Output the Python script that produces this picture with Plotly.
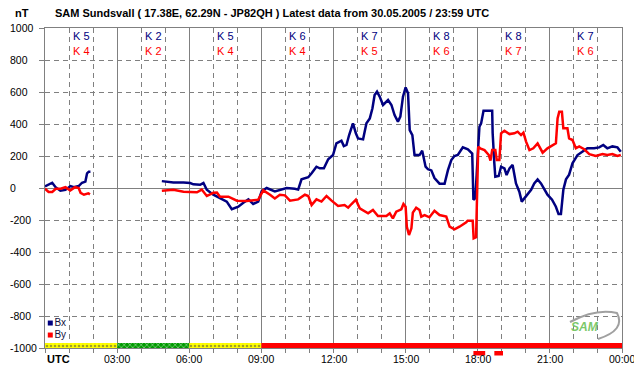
import plotly.graph_objects as go

# ---------------- data ----------------
bx_hours = [0.00, 0.30, 0.44, 0.64, 0.85, 1.06, 1.20, 1.40, 1.54, 1.68, 1.75, 1.82, 1.89, None,
            4.86, 5.34, 5.76, 6.04, 6.17, 6.45, 6.59, 6.73, 7.00, 7.28, 7.56, 7.77, 8.04, 8.25, 8.46, 8.66, 8.87,
            9.01, 9.22, 9.56, 9.77, 10.05, 10.39, 10.53, 10.67, 10.95, 11.09, 11.29, 11.43, 11.60, 11.78, 11.98,
            12.12, 12.33, 12.43, 12.54, 12.65, 12.81, 12.93, 13.02, 13.23, 13.37, 13.51, 13.62, 13.71, 13.81,
            13.92, 14.06, 14.27, 14.41, 14.54, 14.68, 14.78, 14.89, 15.00, 15.10, 15.17, 15.28, 15.37, 15.58,
            15.69, 15.83, 15.93, 16.07, 16.20, 16.41, 16.62, 16.76, 16.90, 17.03, 17.17, 17.38, 17.59, 17.77,
            17.82, 17.90, 18.00, 18.07, 18.14, 18.24, 18.60, 18.62, 18.69, 18.73, 18.87, 18.97, 19.11, 19.20,
            19.32, 19.45, 19.59, 19.73, 19.83, 20.01, 20.22, 20.35, 20.49, 20.63, 20.77, 20.90, 21.09, 21.25,
            21.36, 21.46, 21.56, 21.67, 21.80, 21.94, 22.15, 22.36, 22.56, 22.84, 23.05, 23.22, 23.39, 23.60,
            23.81, 23.95]
bx_values = [10, 33, 5, -17, -12, 12, 5, 12, 33, 40, 92, 102, 102, None,
             43, 35, 35, 31, 23, 20, 31, -11, -42, -63, -85, -133, -117, -92, -71, -100, -85,
             -21, 0, -21, -10, 0, -5, -10, 54, 67, 92, 133, 123, 123, 180, 206,
             279, 296, 262, 269, 331, 404, 342, 310, 304, 404, 435, 498, 581, 602,
             571, 519, 550, 519, 456, 415, 446, 571, 629, 592, 362, 331, 206, 206,
             233, 133, 117, 110, 62, 27, 27, 112, 175, 200, 206, 254, 242, 215,
             -73, -63, 206, 383, 404, 483, 483, 342, 154, 71, 75, 133, 123, 81,
             123, 144, 29, -23, -85, -54, -11, 29, 54, 29, -11, -42, -73, -117,
             -163, -163, -11, 54, 83, 154, 206, 227, 248, 248, 254, 269, 248, 260,
             254, 227]

by_hours = [0.00, 0.15, 0.30, 0.45, 0.65, 0.85, 1.05, 1.25, 1.40, 1.48, 1.62, 1.80, 1.87, None,
            4.86, 5.34, 5.76, 6.32, 6.52, 6.73, 7.00, 7.15, 7.28, 7.63, 7.98, 8.39, 8.87, 9.08, 9.36, 9.56,
            9.77, 9.98, 10.19, 10.53, 10.81, 10.95, 11.09, 11.29, 11.50, 11.71, 11.92, 12.19, 12.46, 12.61,
            12.75, 12.93, 13.09, 13.44, 13.64, 13.85, 14.20, 14.34, 14.47, 14.61, 14.82, 14.91, 15.00, 15.05,
            15.14, 15.24, 15.30, 15.44, 15.58, 15.65, 15.79, 15.99, 16.20, 16.41, 16.69, 16.83, 17.03, 17.24,
            17.52, 17.58, 17.79, 17.83, 17.93, 17.96, 18.02, 18.10, 18.28, 18.46, 18.53, 18.60, 18.73, 18.79,
            18.90, 18.97, 19.11, 19.32, 19.52, 19.66, 19.80, 19.90, 20.01, 20.15, 20.31, 20.49, 20.70, 20.90,
            21.11, 21.25, 21.32, 21.39, 21.50, 21.56, 21.73, 21.80, 21.94, 22.08, 22.22, 22.43, 22.64, 22.91,
            23.19, 23.39, 23.60, 23.81, 23.95]
by_values = [-5, -25, -25, -5, -5, 5, -15, 5, 0, -30, -42, -33, -40, None,
             -17, -11, -23, -27, -10, -50, -30, -29, -55, -54, -79, -81, -73, -15, -42, -65,
             -42, -46, -79, -71, -42, -50, -106, -71, -85, -50, -79, -112, -106, -123,
             -100, -73, -127, -158, -137, -175, -175, -158, -190, -148, -133, -100, -117, -242,
             -294, -252, -154, -123, -137, -179, -169, -183, -142, -169, -179, -242, -258, -242,
             -215, -204, -204, -315, -308, -54, 258, 248, 237, 206, 171, 237, 237, 175,
             175, 342, 358, 337, 342, 352, 331, 346, 290, 237, 248, 279, 221, 248,
             269, 279, 435, 477, 477, 373, 373, 310, 300, 248, 260, 242, 212, 200,
             212, 206, 212, 200, 206]

k_bx = [5, 2, 5, 6, 7, 8, 8, 7]
k_by = [4, 2, 4, 4, 5, 6, 7, 6]
k_centers = [1.5, 4.5, 7.5, 10.5, 13.5, 16.5, 19.5, 22.5]

strip_centers = [1.5, 4.5, 7.5, 16.5]
strip_widths = [3, 3, 3, 15]
strip_colors = ["#FFFF00", "#009A00", "#FFFF00", "#FF0000"]
strip_patterns = [".", "x", ".", ""]
strip_fg = ["#FF0000", "#005A00", "#FF0000", "#FF0000"]

event_starts = [17.82, 18.69]
event_ends = [18.31, 19.05]

x_tickvals = [0, 3, 6, 9, 12, 15, 18, 21, 24]
x_ticktext = ["", "03:00", "06:00", "09:00", "12:00", "15:00", "18:00", "21:00", "00:00"]
y_tickvals = [1000, 800, 600, 400, 200, 0, -200, -400, -600, -800, -1000]

title_text = "SAM Sundsvall ( 17.38E, 62.29N - JP82QH ) Latest data from 30.05.2005 / 23:59 UTC"

# ---------------- figure ----------------
# the page body has an 8px margin, so the figure is made 8px smaller and all
# positions are given in window pixels (offset 8px)
OFF = 8
W, H = 642 - OFF, 376 - OFF
L, R, T, B = 45 - OFF, 20, 28 - OFF, 28
PW, PH = W - L - R, H - T - B


def px(xp):
    return (xp - OFF - L) / PW


def py(yp):
    return (H - B - (yp - OFF)) / PH


FONT = "Liberation Sans, Arial, sans-serif"
GRID = "#808080"

fig = go.Figure()

fig.add_trace(go.Bar(
    x=strip_centers, y=[31] * len(strip_centers), base=-1000, width=strip_widths,
    marker=dict(color=strip_colors, line=dict(width=0),
                pattern=dict(shape=strip_patterns, fgcolor=strip_fg, size=4, solidity=0.35)),
    showlegend=False, hoverinfo="skip"))

fig.add_trace(go.Scatter(x=bx_hours, y=bx_values, mode="lines", name="Bx",
                         line=dict(color="#000080", width=2.5), connectgaps=False, showlegend=False))
fig.add_trace(go.Scatter(x=by_hours, y=by_values, mode="lines", name="By",
                         line=dict(color="#FF0000", width=2.5), connectgaps=False, showlegend=False))

# legend
fig.add_trace(go.Scatter(x=[0.22, 0.22], y=[-844, -919], mode="markers+text",
                         marker=dict(symbol="square", size=5, color=["#000080", "#FF0000"]),
                         text=["Bx", "By"], textposition="middle right",
                         textfont=dict(family=FONT, size=10, color="#101040"),
                         showlegend=False, hoverinfo="skip", cliponaxis=False))

ann = []
ann.append(dict(text="<b>" + title_text + "</b>", xref="paper", yref="paper", x=px(272), y=py(13),
                xanchor="center", yanchor="middle", showarrow=False,
                font=dict(family=FONT, size=11, color="black")))
ann.append(dict(text="<b>nT</b>", xref="paper", yref="paper", x=px(22), y=py(13),
                xanchor="center", yanchor="middle", showarrow=False,
                font=dict(family=FONT, size=11, color="black")))
ann.append(dict(text="<b>UTC</b>", xref="paper", yref="paper", x=px(45), y=py(359),
                xanchor="left", yanchor="middle", showarrow=False,
                font=dict(family=FONT, size=11, color="black")))
for tv, tt in zip(x_tickvals, x_ticktext):
    if tt:
        ann.append(dict(text=tt, xref="x", yref="paper", x=tv, y=py(359),
                        xanchor="center", yanchor="middle", showarrow=False,
                        font=dict(family=FONT, size=10.5, color="black")))
for v in y_tickvals:
    ann.append(dict(text=str(v), xref="paper", yref="y", x=px(8), y=v,
                    xanchor="left", yanchor="middle", showarrow=False,
                    font=dict(family=FONT, size=10.5, color="black")))
for xc, kb, ky in zip(k_centers, k_bx, k_by):
    ann.append(dict(text="K " + str(kb), x=xc, y=950, xref="x", yref="y", showarrow=False,
                    xanchor="center", yanchor="middle", font=dict(family=FONT, size=11, color="#000080")))
    ann.append(dict(text="K " + str(ky), x=xc, y=856, xref="x", yref="y", showarrow=False,
                    xanchor="center", yanchor="middle", font=dict(family=FONT, size=11, color="#FF0000")))
# logo
ann.append(dict(text="<b><i>SAM</i></b>", xref="paper", yref="paper", x=px(585), y=py(327),
                xanchor="center", yanchor="middle", showarrow=False,
                font=dict(family=FONT, size=12, color="#7CC86A")))

shapes = [dict(type="path", xref="paper", yref="paper", layer="above",
               path=f"M {px(570)},{py(322)} Q {px(596)},{py(308)} {px(617)},{py(313)} "
                    f"Q {px(626)},{py(330)} {px(598)},{py(339)}",
               line=dict(color="#A0A0A0", width=2))]
for s, e in zip(event_starts, event_ends):
    shapes.append(dict(type="rect", xref="x", yref="paper", x0=s, x1=e,
                       y0=py(355.5), y1=py(351), fillcolor="#FF0000",
                       line=dict(width=0), layer="above"))

fig.update_layout(
    width=W, height=H, margin=dict(l=L, r=R, t=T, b=B, autoexpand=False),
    paper_bgcolor="white", plot_bgcolor="white",
    barmode="overlay", showlegend=False,
    annotations=ann, shapes=shapes,
    font=dict(family=FONT, size=10.5, color="black"),
)
fig.update_xaxes(range=[0, 24], tickvals=x_tickvals, showticklabels=False,
                 showgrid=True, gridcolor=GRID, gridwidth=1,
                 ticks="outside", ticklen=4, tickcolor=GRID,
                 showline=True, linecolor=GRID, linewidth=1, mirror=True,
                 zeroline=False,
                 minor=dict(dtick=1, tick0=0, showgrid=True, gridcolor=GRID, griddash="5px,4px",
                            gridwidth=1, ticks="outside", ticklen=4, tickcolor=GRID))
fig.update_yaxes(range=[-1000, 1000], tickvals=y_tickvals, showticklabels=False,
                 showgrid=True, gridcolor=GRID, gridwidth=1, griddash="5px,4px",
                 zeroline=True, zerolinecolor=GRID, zerolinewidth=1,
                 ticks="outside", ticklen=5, tickcolor=GRID,
                 showline=True, linecolor=GRID, linewidth=1, mirror=True)

fig.write_html("out.html")
